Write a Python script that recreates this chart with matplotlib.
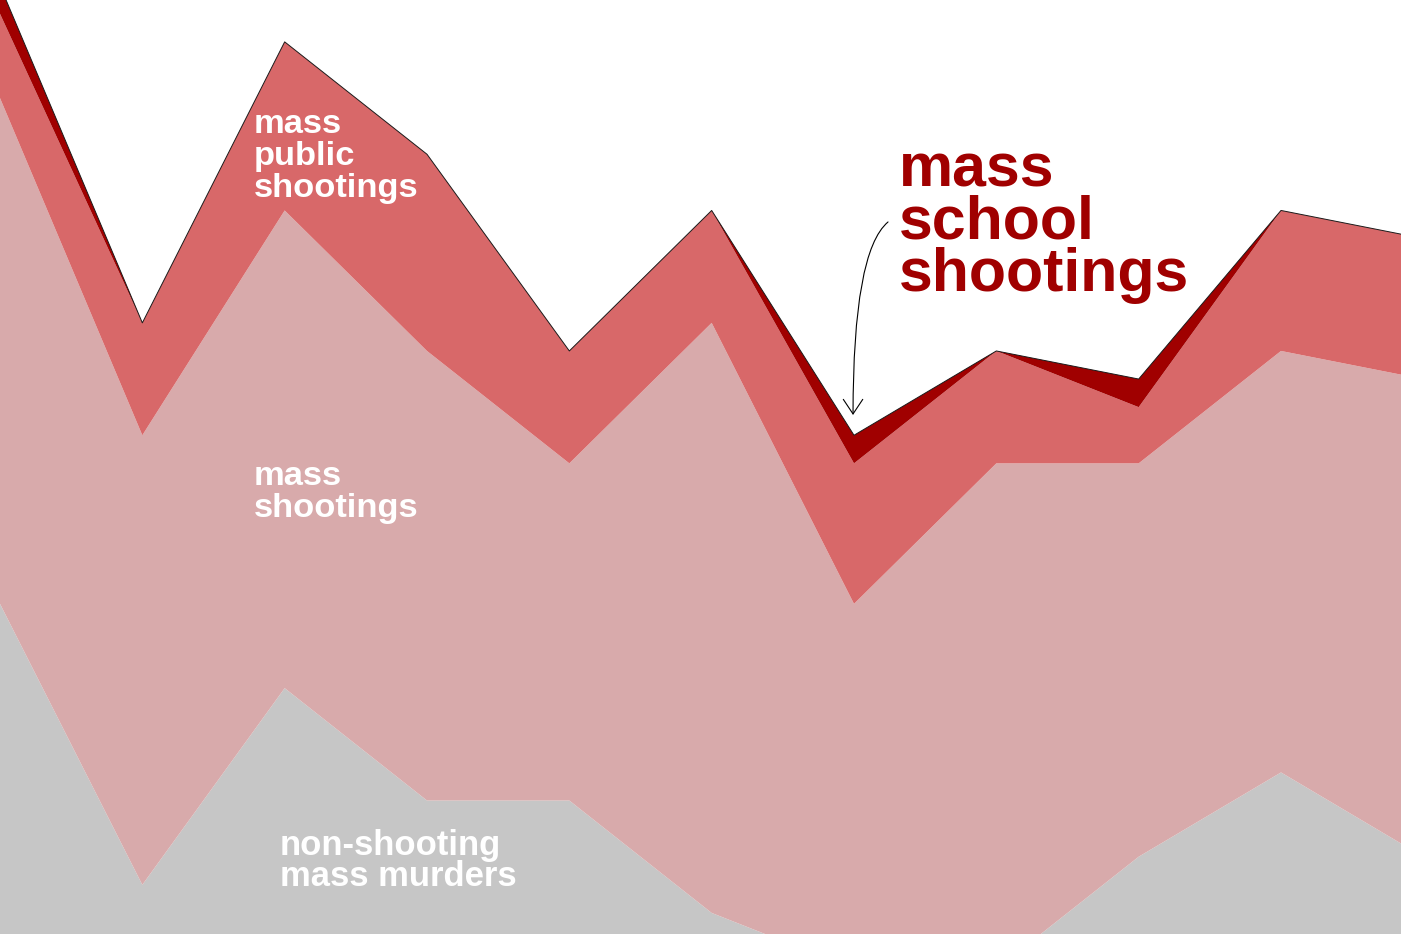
import numpy as np
import matplotlib
matplotlib.use("Agg")
import matplotlib.pyplot as plt

# ---- data (counts per period) ----
periods = np.arange(11)
non_shooting = [13, 3, 10, 6, 6, 2, 0, 0, 4, 7, 4]
mass_shootings = [18, 16, 17, 16, 12, 21, 13, 18, 14, 15, 17]
mass_public = [3, 4, 6, 7, 4, 4, 5, 4, 2, 5, 5]
mass_school = [1, 0, 0, 0, 0, 0, 1, 0, 1, 0, 0]

colors = ["#c6c6c6", "#d8aaab", "#d86869", "#a00000"]

W, H = 1401, 934
fig = plt.figure(figsize=(W / 100, H / 100), dpi=100)
ax = fig.add_axes([0, 0, 1, 1])
ax.stackplot(periods, non_shooting, mass_shootings, mass_public, mass_school,
             colors=colors, linewidth=0)
total = np.array(non_shooting) + np.array(mass_shootings) + np.array(mass_public) + np.array(mass_school)
ax.plot(periods, total, color="#1a1a1a", lw=0.7)
ax.set_xlim(0, 9.843)
ax.set_ylim(1.25, 34.49)
ax.axis("off")

font = "Liberation Sans"

def ftext(x, y, s, size, color, ls=1.0):
    return fig.text(x / W, 1 - y / H, s, fontsize=size, color=color, family=font,
                    fontweight="bold", ha="left", va="baseline", linespacing=ls)

for s, y in zip(["mass", "public", "shootings"], [133, 165, 197]):
    ftext(254, y, s, 24.8, "white")
for s, y in zip(["mass", "shootings"], [485, 517]):
    ftext(254, y, s, 24.8, "white")
for s, y in zip(["non-shooting", "mass murders"], [855, 886]):
    ftext(280, y, s, 24.9, "white")
ftext(899, 291, "mass\nschool\nshootings", 43.8, "#a00000", ls=0.89)

# arrow pointing to school shootings dip
ax.annotate("", xy=(853 / 142.33, (969.2 - 415) / 28.1), xytext=(888 / 142.33, (969.2 - 222) / 28.1),
            arrowprops=dict(arrowstyle="->,head_length=1.05,head_width=0.7",
                            connectionstyle="angle3,angleA=220,angleB=90",
                            color="black", lw=0.8, shrinkA=0, shrinkB=0,
                            mutation_scale=10))

fig.savefig("out.png", dpi=100)
